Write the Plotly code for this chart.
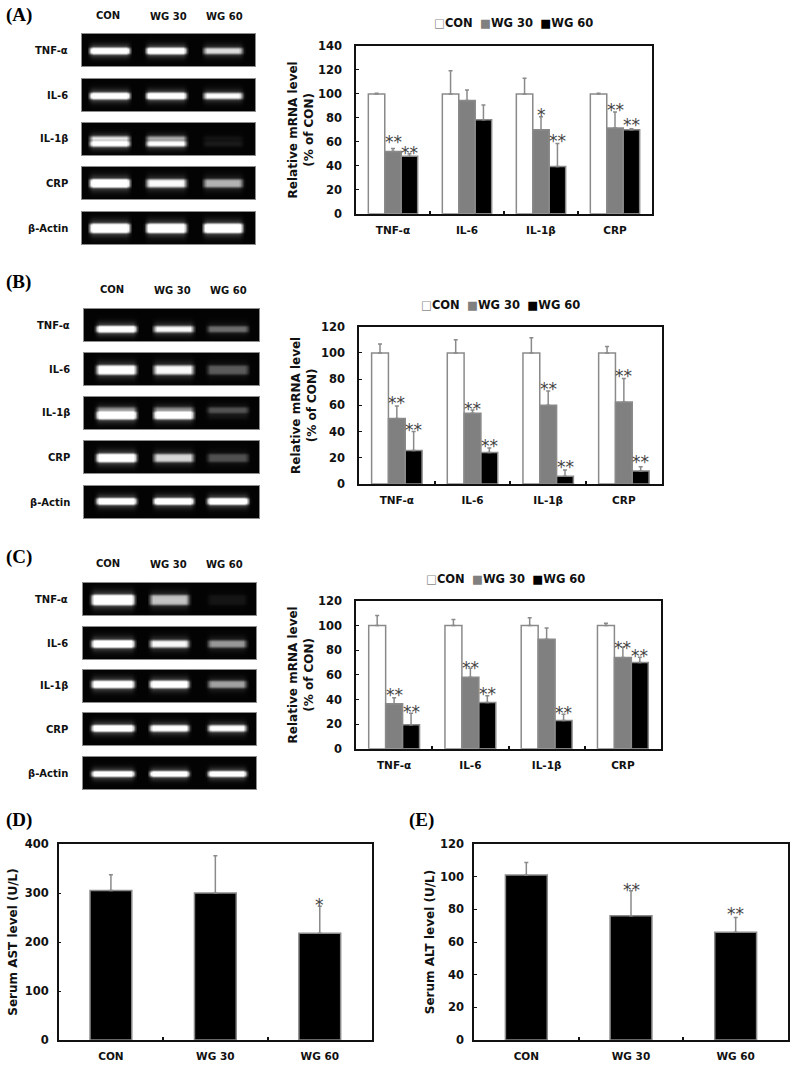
import numpy as np
import plotly.graph_objects as go

WIDTH, HEIGHT = 791, 1071
FONT = "DejaVu Sans"

GENES = ["TNF-α", "IL-6", "IL-1β", "CRP"]
GEL_ROWS = ["TNF-α", "IL-6", "IL-1β", "CRP", "β-Actin"]
GROUPS = ["CON", "WG 30", "WG 60"]

# panel A
A_CON = [100, 100, 100, 100]
A_CON_TOP = [100.5, 119.4, 113, 100.5]
A_30 = [52, 94.5, 70, 71.5]
A_30_TOP = [54.5, 103.3, 81, 85]
A_60 = [48, 78.5, 39.5, 70]
A_60_TOP = [50, 90.7, 58.7, 71]
A_30_STARS = ["**", "", "*", "**"]
A_30_STAR_Y = [62, 0, 85, 89]
A_60_STARS = ["**", "", "**", "**"]
A_60_STAR_Y = [53, 0, 63.5, 76.5]

# panel B
B_CON = [100, 100, 100, 100]
B_CON_TOP = [106.8, 110, 111.6, 104.8]
B_30 = [50, 54, 60, 62.5]
B_30_TOP = [59.5, 56.5, 71, 80.5]
B_60 = [25.5, 24, 6, 10]
B_60_TOP = [40, 27.5, 10.7, 13.2]
B_30_STARS = ["**", "**", "**", "**"]
B_30_STAR_Y = [64, 59.7, 74.8, 84.4]
B_60_STARS = ["**", "**", "**", "**"]
B_60_STAR_Y = [43.7, 31.5, 15, 18.8]

# panel C
C_CON = [100, 100, 100, 100]
C_CON_TOP = [108.3, 105, 106.4, 102]
C_30 = [36.5, 58, 89, 74]
C_30_TOP = [41.3, 65.4, 98, 82.5]
C_60 = [19.5, 37.5, 23, 70]
C_60_TOP = [28.8, 43, 28, 74.4]
C_30_STARS = ["**", "**", "", "**"]
C_30_STAR_Y = [46, 68, 0, 84.4]
C_60_STARS = ["**", "**", "**", "**"]
C_60_STAR_Y = [32.3, 46.7, 31.5, 77.6]

# panels D and E
AST = [305, 300, 218]
AST_TOP = [337.4, 376, 273]
AST_STARS = ["", "", "*"]
AST_STAR_Y = [0, 0, 282]
ALT = [101, 76, 66]
ALT_TOP = [108.6, 91.4, 75]
ALT_STARS = ["", "**", "**"]
ALT_STAR_Y = [0, 93.5, 79]

# gel band brightness, one list per row, one value per lane
GEL_A = [[1, 1, .62], [1, 1, .72], [.85, .75, .06], [1, .7, .5], [1, 1, 1]]
GEL_B = [[1, .7, .3], [.85, .7, .25], [1, .85, .03], [1, .6, .22], [1, 1, 1]]
GEL_C = [[1, .55, .05], [1, .7, .42], [.95, .95, .45], [1, .85, .8], [1, 1, 1]]
# fainter upper band seen in some lanes
GEL_A_UPPER = [[0, 0, 0], [0, 0, 0], [.55, .4, .04], [0, 0, 0], [0, 0, 0]]
GEL_B_UPPER = [[0, 0, 0], [0, 0, 0], [.3, .3, .22], [0, 0, 0], [0, 0, 0]]
GEL_C_UPPER = [[0, 0, 0], [0, 0, 0], [0, 0, 0], [0, 0, 0], [0, 0, 0]]


def px_x(x):
    return x / WIDTH


def px_y(y):
    return 1 - y / HEIGHT


def gel_matrix(levels, upper, centre, half, lanes):
    ys = np.arange(0, 32)
    xs = np.linspace(0, 1, 88)
    z = np.zeros((len(ys), len(xs)))
    for (x0, x1), b, b2 in zip(lanes, levels, upper):
        h = np.clip(np.minimum(xs - x0, x1 - xs) / 0.03 + 0.5, 0, 1)
        for level, c, hh in ((b, centre * 32, half), (b2, (centre - 0.17) * 32, half * 0.8)):
            dy = np.abs(ys - c)
            core = np.clip((hh - dy) / 2.5 + 0.5, 0, 1)
            halo = 0.4 * np.exp(-(dy / (hh + 3)) ** 2)
            z += level * np.outer(core + halo, h)
    return np.clip(z, 0, 1)


fig = go.Figure()
annotations = []
axis_no = 0


def next_axes():
    global axis_no
    axis_no += 1
    return axis_no


def add_text(text, x, y, size=10, anchor="center", family=FONT, color="#111111"):
    annotations.append(dict(
        text=text, xref="paper", yref="paper", x=px_x(x), y=px_y(y),
        xanchor=anchor, yanchor="middle", showarrow=False,
        font=dict(family=family, size=size, color=color),
    ))


def add_gel(rows, levels, upper, box_x, tops, centres, halves, lanes, label_x, col_x, col_y):
    for i, name in enumerate(rows):
        n = next_axes()
        fig.add_trace(go.Heatmap(
            z=gel_matrix(levels[i], upper[i], centres[i], halves[i], lanes),
            colorscale=[[0, "#030303"], [1, "#ffffff"]], zmin=0, zmax=1,
            zsmooth="best", showscale=False, hoverinfo="skip",
            xaxis=f"x{n}", yaxis=f"y{n}",
        ))
        common = dict(showticklabels=False, ticks="", showgrid=False, zeroline=False,
                      showline=True, mirror=True, linecolor="#8c8c8c", linewidth=1)
        fig.update_layout(**{
            f"xaxis{n}": dict(domain=[px_x(box_x[0]), px_x(box_x[1])], anchor=f"y{n}", **common),
            f"yaxis{n}": dict(domain=[px_y(tops[i] + 32), px_y(tops[i])], anchor=f"x{n}",
                              autorange="reversed", **common),
        })
        add_text(f"<b>{name}</b>", label_x, tops[i] + 16, anchor="right")
    for g, x, y in zip(GROUPS, col_x, col_y):
        add_text(f"<b>{g}</b>", x, y)


def add_bars(cats, series, box_x, box_y, ymax, dtick, gap, ytitle, label_off, standoff, colors):
    n = next_axes()
    count = len(series)
    bar_w = (1 - gap) / count
    for k, (vals, tops, stars, star_y) in enumerate(series):
        fig.add_trace(go.Bar(
            x=cats, y=vals, width=bar_w,
            marker=dict(color=colors[k], line=dict(color="#8a8a8a", width=1.5)),
            error_y=dict(type="data", symmetric=False,
                         array=[t - v for t, v in zip(tops, vals)], arrayminus=[0] * len(vals),
                         color="#8a8a8a", thickness=1.5, width=2),
            showlegend=False, name=GROUPS[k] if count > 1 else ytitle,
            xaxis=f"x{n}", yaxis=f"y{n}",
        ))
        for c, (s, sy) in enumerate(zip(stars, star_y)):
            if s:
                # the ascii asterisk sits high in its line, so pull it down to the value
                annotations.append(dict(
                    text=s, xref=f"x{n}", yref=f"y{n}",
                    x=c + (k - (count - 1) / 2) * bar_w, y=sy, showarrow=False,
                    xanchor="center", yanchor="middle", yshift=-3,
                    font=dict(family=FONT, size=17, color="#444444"),
                ))
    fig.update_layout(**{
        f"xaxis{n}": dict(
            domain=[px_x(box_x[0]), px_x(box_x[1])], anchor=f"y{n}", type="category",
            tickson="boundaries", ticks="inside", ticklen=3, tickwidth=1.5, tickcolor="#111111",
            showline=True, mirror=True, linecolor="#111111", linewidth=1.5, showgrid=False,
            ticklabelstandoff=6,
            tickfont=dict(family=FONT, size=10.5, color="#111111", weight="bold"),
        ),
        f"yaxis{n}": dict(
            domain=[px_y(box_y[1]), px_y(box_y[0])], anchor=f"x{n}", range=[0, ymax], dtick=dtick,
            ticks="inside", ticklen=3, tickwidth=1, tickcolor="#111111",
            showline=True, mirror=True, linecolor="#111111", linewidth=1.5,
            showgrid=False, zeroline=False, ticklabelstandoff=label_off,
            tickfont=dict(family=FONT, size=11.5, color="#111111", weight="bold"),
            title=dict(text=f"<b>{ytitle}</b>", standoff=standoff,
                       font=dict(family=FONT, size=12, color="#111111")),
        ),
    })


def add_legend(cx, y):
    text = ('<span style="color:#8a8a8a">□</span><b>CON</b>  '
            '<span style="color:#808080">■</span><b>WG 30</b>  '
            '<span style="color:#000000">■</span><b>WG 60</b>')
    add_text(text, cx, y, size=11.5)


LANES_A = [(.04, .27), (.37, .6), (.705, .93)]
LANES_B = [(.067, .29), (.395, .625), (.71, .94)]
LANES_C = [(.045, .29), (.385, .61), (.725, .945)]

add_gel(GEL_ROWS, GEL_A, GEL_A_UPPER, (82, 255), [34, 79, 123, 167, 212],
        [.5, .5, .62, .48, .48], [3, 3, 2.5, 4, 4.5], LANES_A, 70,
        [108, 168, 224], [16, 17, 17])
add_gel(GEL_ROWS, GEL_B, GEL_B_UPPER, (84, 259), [309, 353, 397, 441, 486],
        [.6, .5, .55, .5, .45], [3, 4.5, 3.5, 4, 3], LANES_B, 72,
        [112, 172, 228], [290, 291, 291])
add_gel(GEL_ROWS, GEL_C, GEL_C_UPPER, (83, 256), [583, 627, 670, 713, 757],
        [.5, .5, .42, .45, .5], [5, 3.5, 3.5, 3, 2.5], LANES_C, 70,
        [108, 168, 224], [563, 564, 564])

MRNA_TITLE = "Relative mRNA level<br>(% of CON)"
BAR_COLORS = ["#ffffff", "#808080", "#000000"]

add_bars(GENES, [(A_CON, A_CON_TOP, [""] * 4, [0] * 4), (A_30, A_30_TOP, A_30_STARS, A_30_STAR_Y),
                 (A_60, A_60_TOP, A_60_STARS, A_60_STAR_Y)],
         (356, 652), (46, 213.7), 140, 20, 1 / 3, MRNA_TITLE, 10, 2, BAR_COLORS)
add_bars(GENES, [(B_CON, B_CON_TOP, [""] * 4, [0] * 4), (B_30, B_30_TOP, B_30_STARS, B_30_STAR_Y),
                 (B_60, B_60_TOP, B_60_STARS, B_60_STAR_Y)],
         (359, 661.7), (326.7, 484), 120, 20, 1 / 3, MRNA_TITLE, 10, 2, BAR_COLORS)
add_bars(GENES, [(C_CON, C_CON_TOP, [""] * 4, [0] * 4), (C_30, C_30_TOP, C_30_STARS, C_30_STAR_Y),
                 (C_60, C_60_TOP, C_60_STARS, C_60_STAR_Y)],
         (356, 661), (601, 748.7), 120, 20, 1 / 3, MRNA_TITLE, 10, 2, BAR_COLORS)
add_bars(GROUPS, [(AST, AST_TOP, AST_STARS, AST_STAR_Y)],
         (58.7, 372), (844, 1040), 400, 100, 0.6, "Serum AST level (U/L)", 6, 4, ["#000000"])
add_bars(GROUPS, [(ALT, ALT_TOP, ALT_STARS, ALT_STAR_Y)],
         (474, 788), (844, 1040), 120, 20, 0.6, "Serum ALT level (U/L)", 6, 3, ["#000000"])

add_legend(513, 23)
add_legend(500, 305)
add_legend(505, 579)

SERIF = "Liberation Serif"
for letter, x, y in [("(A)", 4, 15), ("(B)", 4, 282), ("(C)", 4, 557), ("(D)", 4, 820), ("(E)", 407, 820)]:
    add_text(f"<b>{letter}</b>", x, y, size=19, anchor="left", family=SERIF, color="#000000")

fig.update_layout(
    template="none", width=WIDTH, height=HEIGHT, margin=dict(l=0, r=0, t=0, b=0),
    paper_bgcolor="white", plot_bgcolor="white", barmode="group",
    bargroupgap=0, bargap=1 / 3, annotations=annotations, showlegend=False,
)

fig.write_html("out.html", config=dict(displayModeBar=False),
               post_script="document.body.style.margin='0';")
